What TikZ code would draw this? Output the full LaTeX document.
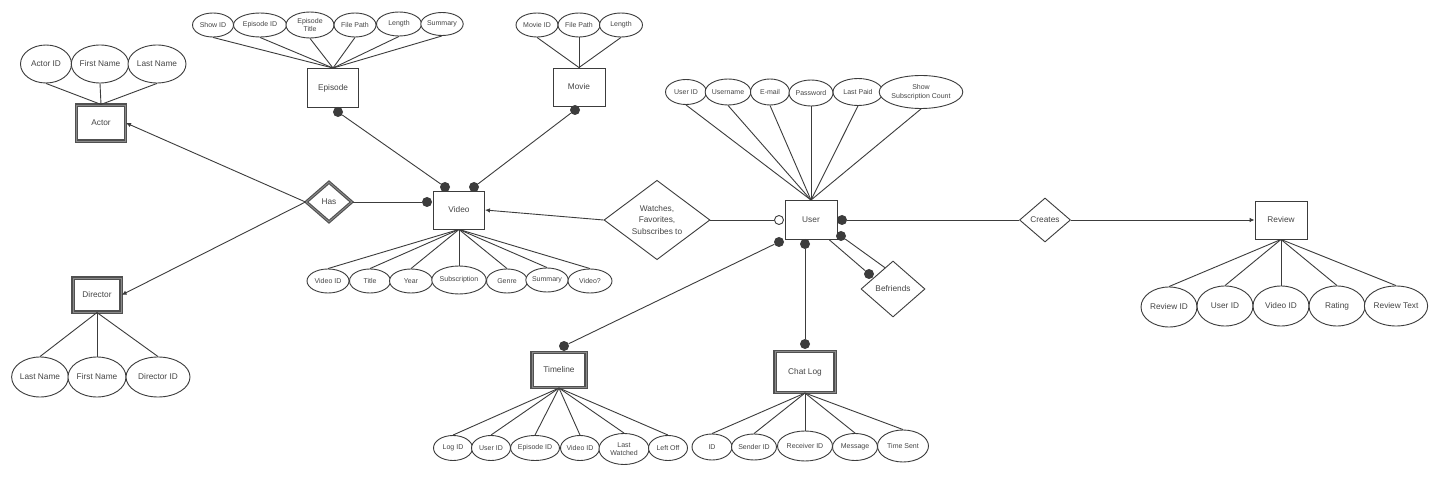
\documentclass[tikz,border=0pt]{standalone}
\usepackage{fontspec}
\setmainfont{Liberation Sans}
\usetikzlibrary{shapes.geometric,arrows.meta,calc}
\definecolor{lc}{HTML}{3C3C3C}
\definecolor{tc}{HTML}{454545}
\definecolor{mid}{HTML}{8A8A8A}
\begin{document}
\begin{tikzpicture}[x=1pt,y=-1pt,
 base/.style={draw=lc, line width=0.9pt, fill=white, text=tc, inner sep=0pt, align=center},
 attr/.style={base, ellipse},
 sm/.style={font=\fontsize{7}{8.5}\selectfont},
 md/.style={font=\fontsize{8.3}{11.5}\selectfont},
 wh/.style 2 args={minimum width=#1pt, minimum height=#2pt},
 ent/.style={base, rectangle, md},
 weak/.style={ent, draw=lc!90, double=mid, double distance=0.9pt, line width=1.1pt},
 rel/.style={base, diamond, md},
 weakrel/.style={rel, draw=lc!90, double=mid, double distance=0.9pt, line width=1.1pt},
 conn/.style={draw=lc, line width=0.9pt},
 arr/.style={conn, -{Latex[length=5pt,width=4.5pt]}},
 fdot/.style={circle, fill=lc, inner sep=0pt, minimum size=10pt},
 odot/.style={circle, draw=lc, line width=0.9pt, fill=white, inner sep=0pt, minimum size=9pt}]
\useasboundingbox[fill=white] (0,0) rectangle (1440,478);

% ---------- entities ----------
\node[weak, wh={49}{36}] (actor) at (101,123) {Actor};
\node[ent, wh={51}{39}] (episode) at (333,88) {Episode};
\node[ent, wh={52}{38}] (movie) at (579,87) {Movie};
\node[ent, wh={51}{38}] (video) at (459,210) {Video};
\node[weak, wh={48}{34}] (director) at (97,295) {Director};
\node[ent, wh={52}{39}] (user) at (811,220) {User};
\node[ent, wh={52}{38}] (review) at (1281,220) {Review};
\node[weak, wh={54}{35}] (timeline) at (559,370) {Timeline};
\node[weak, wh={60}{41}] (chatlog) at (805,372) {Chat Log};

% ---------- relationships ----------
\node[weakrel, wh={46}{40}] (has) at (329,202) {Has};
\node[rel, wh={106}{66}] (watch) at (657,220) {Watches,\\Favorites,\\Subscribes to};
\node[rel, wh={51}{44}] (creates) at (1045,220) {Creates};
\node[rel, wh={64}{56}] (bef) at (893,289) {Befriends};

% ---------- actor attributes ----------
\node[attr, md, wh={51}{38}] (a1) at (46,64) {Actor ID};
\node[attr, md, wh={56}{38}] (a2) at (100,64) {First Name};
\node[attr, md, wh={58}{38}] (a3) at (157,64) {Last Name};
\foreach \a in {a1,a2,a3} \draw[conn] (\a.south) -- (actor.north);

% ---------- episode attributes ----------
\node[attr, sm, wh={41}{24}] (e1) at (213,25) {Show ID};
\node[attr, sm, wh={53}{24}] (e2) at (260,25) {Episode ID};
\node[attr, sm, wh={48}{26}] (e3) at (310,25) {Episode\\Title};
\node[attr, sm, wh={42}{24}] (e4) at (355,25) {File Path};
\node[attr, sm, wh={45}{24}] (e5) at (399,24) {Length};
\node[attr, sm, wh={41}{23}] (e6) at (442,24) {Summary};
\foreach \a in {e1,e2,e3,e4,e5,e6} \draw[conn] (\a.south) -- (episode.north);

% ---------- movie attributes ----------
\node[attr, sm, wh={42}{24}] (m1) at (537,25) {Movie ID};
\node[attr, sm, wh={42}{24}] (m2) at (579,25) {File Path};
\node[attr, sm, wh={43}{24}] (m3) at (621,25) {Length};
\foreach \a in {m1,m2,m3} \draw[conn] (\a.south) -- (movie.north);

% ---------- user attributes ----------
\node[attr, sm, wh={41}{25}] (u1) at (686,92) {User ID};
\node[attr, sm, wh={43}{26}] (u2) at (728,92) {Username};
\node[attr, sm, wh={39}{26}] (u3) at (770,92) {E-mail};
\node[attr, sm, wh={44}{26}] (u4) at (811,93) {Password};
\node[attr, sm, wh={50}{27}] (u5) at (858,92) {Last Paid};
\node[attr, sm, wh={77}{33}] (u6) at (921,92) {Show\\Subscription Count};
\foreach \a in {u1,u2,u3,u4,u5,u6} \draw[conn] (\a.south) -- (user.north);

% ---------- director attributes ----------
\node[attr, md, wh={56}{40}] (d1) at (40,377) {Last Name};
\node[attr, md, wh={58}{40}] (d2) at (97,377) {First Name};
\node[attr, md, wh={64}{40}] (d3) at (158,377) {Director ID};
\foreach \a in {d1,d2,d3} \draw[conn] (director.south) -- (\a.north);

% ---------- video attributes ----------
\node[attr, sm, wh={42}{24}] (v1) at (328,281) {Video ID};
\node[attr, sm, wh={41}{24}] (v2) at (370,281) {Title};
\node[attr, sm, wh={43}{24}] (v3) at (411,281) {Year};
\node[attr, sm, wh={53}{28}] (v4) at (459,280) {Subscription};
\node[attr, sm, wh={41}{24}] (v5) at (507,281) {Genre};
\node[attr, sm, wh={41}{24}] (v6) at (547,280) {Summary};
\node[attr, sm, wh={44}{24}] (v7) at (590,281) {Video?};
\foreach \a in {v1,v2,v3,v4,v5,v6,v7} \draw[conn] (video.south) -- (\a.north);

% ---------- review attributes ----------
\node[attr, md, wh={56}{40}] (r1) at (1169,307) {Review ID};
\node[attr, md, wh={56}{40}] (r2) at (1225,306) {User ID};
\node[attr, md, wh={56}{40}] (r3) at (1281,306) {Video ID};
\node[attr, md, wh={56}{40}] (r4) at (1337,306) {Rating};
\node[attr, md, wh={63}{40}] (r5) at (1396,306) {Review Text};
\foreach \a in {r1,r2,r3,r4,r5} \draw[conn] (review.south) -- (\a.north);

% ---------- timeline attributes ----------
\node[attr, sm, wh={39}{25}] (t1) at (453,448) {Log ID};
\node[attr, sm, wh={39}{25}] (t2) at (491,448) {User ID};
\node[attr, sm, wh={49}{25}] (t3) at (535,448) {Episode ID};
\node[attr, sm, wh={39}{25}] (t4) at (580,448) {Video ID};
\node[attr, sm, wh={50}{31}] (t5) at (624,449) {Last\\Watched};
\node[attr, sm, wh={39}{25}] (t6) at (668,448) {Left Off};
\foreach \a in {t1,t2,t3,t4,t5,t6} \draw[conn] (timeline.south) -- (\a.north);

% ---------- chat log attributes ----------
\node[attr, sm, wh={40}{26}] (c1) at (712,447) {ID};
\node[attr, sm, wh={45}{26}] (c2) at (754,447) {Sender ID};
\node[attr, sm, wh={55}{30}] (c3) at (805,446) {Receiver ID};
\node[attr, sm, wh={45}{27}] (c4) at (855,447) {Message};
\node[attr, sm, wh={51}{32}] (c5) at (903,446) {Time Sent};
\foreach \a in {c1,c2,c3,c4,c5} \draw[conn] (chatlog.south) -- (\a.north);

% ---------- connector end dots ----------
\node[fdot] (epd) at (338,112) {};
\node[fdot] (mvd) at (575,110) {};
\node[fdot] (vd1) at (445,187) {};
\node[fdot] (vd2) at (474,187) {};
\node[fdot] (vd3) at (427,202) {};
\node[odot] (uo) at (779,220) {};
\node[fdot] (ud1) at (842,220) {};
\node[fdot] (ud2) at (841,236) {};
\node[fdot] (ud3) at (779,242) {};
\node[fdot] (ud4) at (805,244) {};
\node[fdot] (bfd) at (869,274) {};
\node[fdot] (tld) at (564,346) {};
\node[fdot] (cld) at (805,344) {};
\coordinate (ubr) at ($(user.south east)+(-8,0)$);
\coordinate (bte) at ($(bef.west)!0.75!(bef.north)$);

% ---------- connectors ----------
\draw[conn] (epd) -- (vd1);
\draw[conn] (mvd) -- (vd2);
\draw[conn] (has.east) -- (vd3);
\draw[arr] (has.west) -- (actor.east);
\draw[arr] (has.west) -- (director.east);
\draw[arr] (watch.west) -- (video.east);
\draw[conn] (watch.east) -- (uo);
\draw[conn] (ud1) -- (creates.west);
\draw[arr] (creates.east) -- (review.west);
\draw[conn] (ud2) -- (bte);
\draw[conn] (ubr) -- (bfd);
\draw[conn] (ud3) -- (tld);
\draw[conn] (ud4) -- (cld);
\end{tikzpicture}
\end{document}
